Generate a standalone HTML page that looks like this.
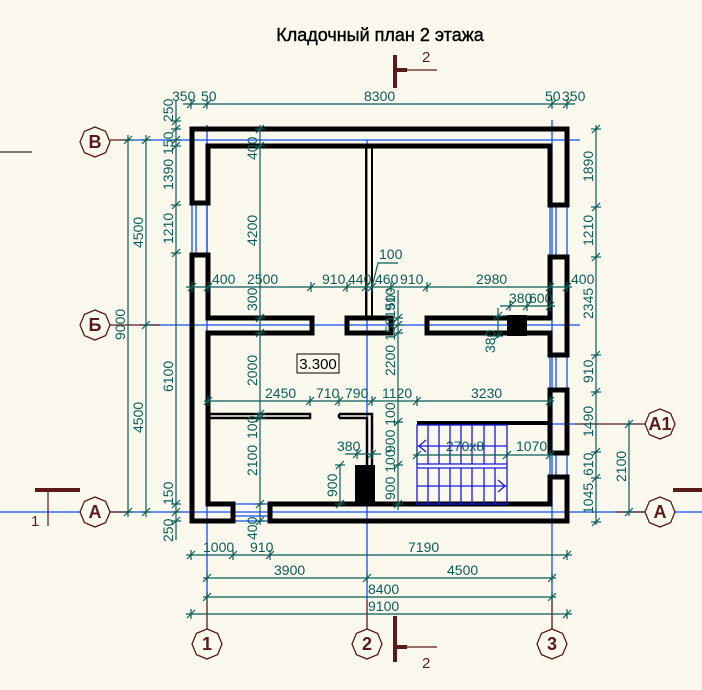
<!DOCTYPE html>
<html><head><meta charset="utf-8"><style>
html,body{margin:0;padding:0;background:#fbf9ee;}
svg{display:block}
.d{stroke:#0b5c58;stroke-width:1.2;fill:none}
.b{stroke:#1050f0;stroke-width:1.3;fill:none}
.w{stroke:#000;stroke-width:5;fill:none;stroke-linejoin:miter}
.r{stroke:#5a1a1a;stroke-width:1.3;fill:none}
text{font-family:"Liberation Sans",sans-serif;}
.t{fill:#0b5c58;font-size:14px;font-family:"Liberation Sans Narrow","Liberation Sans",sans-serif;}
.bb{fill:#5a1a1a;font-size:18px;font-weight:bold;text-anchor:middle}
</style></head><body>
<svg width="702" height="690" viewBox="0 0 702 690" xmlns="http://www.w3.org/2000/svg">
<defs>
<g id="th"><line x1="-4" y1="4" x2="4" y2="-4" stroke="#0b5c58" stroke-width="1.2"/><line x1="0" y1="-5" x2="0" y2="5" stroke="#0b5c58" stroke-width="1.2"/></g>
<g id="tv"><line x1="-4" y1="4" x2="4" y2="-4" stroke="#0b5c58" stroke-width="1.2"/><line x1="-5" y1="0" x2="5" y2="0" stroke="#0b5c58" stroke-width="1.2"/></g>
<polygon id="oct" points="15,0 10.6,10.6 0,15 -10.6,10.6 -15,0 -10.6,-10.6 0,-15 10.6,-10.6" fill="#fbf9ee" stroke="#5a1a1a" stroke-width="1.3"/>
</defs>
<rect width="702" height="690" fill="#fbf9ee"/>
<text x="380" y="41" text-anchor="middle" font-size="18" fill="#000" font-family="Liberation Sans Narrow, Liberation Sans, sans-serif" stroke="#000" stroke-width="0.4">Кладочный план 2 этажа</text>

<!-- axis lines -->
<line class="b" x1="207" y1="125" x2="207" y2="600"/>
<line class="b" x1="367" y1="140" x2="367" y2="600"/>
<line class="b" x1="552" y1="120" x2="552" y2="600"/>
<line class="b" x1="125" y1="140" x2="580" y2="140"/>
<line class="b" x1="140" y1="325" x2="580" y2="325"/>
<line class="b" x1="0" y1="512" x2="702" y2="512"/>
<line class="b" x1="417" y1="424" x2="575" y2="424"/>
<line class="r" x1="207" y1="600" x2="207" y2="629"/>
<line class="r" x1="367" y1="600" x2="367" y2="629"/>
<line class="r" x1="552" y1="600" x2="552" y2="629"/>
<line class="r" x1="110" y1="140" x2="130" y2="140"/>
<line class="r" x1="110" y1="325" x2="160" y2="325"/>
<line class="r" x1="110" y1="512" x2="130" y2="512"/>
<line class="r" x1="575" y1="424" x2="645" y2="424"/>
<line class="r" x1="615" y1="512" x2="645" y2="512"/>
<line x1="0" y1="152" x2="32" y2="152" stroke="#000" stroke-width="1"/>

<!-- windows -->
<g class="b" stroke="#1a1ae0">
<line x1="192" y1="203" x2="192" y2="255"/><line x1="196" y1="203" x2="196" y2="255"/><line x1="207" y1="203" x2="207" y2="255"/>
<line x1="550" y1="205" x2="550" y2="257"/><line x1="556" y1="205" x2="556" y2="257"/><line x1="567" y1="205" x2="567" y2="257"/>
<line x1="550" y1="355" x2="550" y2="390"/><line x1="556" y1="355" x2="556" y2="390"/><line x1="567" y1="355" x2="567" y2="390"/>
<line x1="550" y1="453" x2="550" y2="477"/><line x1="556" y1="453" x2="556" y2="477"/><line x1="567" y1="453" x2="567" y2="477"/>
<line x1="233" y1="504" x2="270" y2="504"/><line x1="233" y1="516" x2="270" y2="516"/><line x1="233" y1="521" x2="270" y2="521"/>
</g>

<!-- walls -->
<path class="w" d="M192,203 V129 H567 V205 H550 V146 H208 V203 Z"/>
<path class="w" d="M192,255 H208 V318 H312 V333 H208 V504 H233 V521 H192 Z"/>
<path class="w" d="M270,521 V504 H550 V477 H567 V521 Z"/>
<rect class="w" x="550" y="390" width="17" height="63"/>
<path class="w" d="M567,257 V355 H550 V333 H427 V318 H550 V257 Z"/>
<rect class="w" x="347" y="318" width="44" height="15"/>
<rect x="507" y="315" width="20" height="21" fill="#000"/>
<rect x="366" y="146" width="6" height="172" fill="none" stroke="#000" stroke-width="2"/>
<rect x="208" y="414" width="102" height="4" fill="none" stroke="#000" stroke-width="2.5"/>
<path d="M339,414 H372 V465 M339,418 H367 V465 M339,414 V418" fill="none" stroke="#000" stroke-width="2.5"/>
<rect x="355" y="465" width="20" height="39" fill="#000"/>
<line x1="417" y1="423" x2="550" y2="423" stroke="#000" stroke-width="4"/>

<!-- stair -->
<g stroke="#1a1ae0" stroke-width="1.3" fill="none">
<rect x="417" y="425" width="90" height="79"/>
<line x1="417" y1="464" x2="507" y2="464"/><line x1="417" y1="468" x2="507" y2="468"/>
<line x1="417" y1="446" x2="507" y2="446"/><line x1="417" y1="486" x2="507" y2="486"/>
<path d="M428,425V464M439,425V464M450,425V464M461,425V464M472,425V464M484,425V464M495,425V464"/>
<path d="M428,468V504M439,468V504M450,468V504M461,468V504M472,468V504M484,468V504M495,468V504"/>
<path d="M426,440 L419,446 L426,452 M498,480 L505,486 L498,492"/>
</g>

<!-- dimension lines -->
<g class="d">
<line x1="183" y1="104" x2="575" y2="104"/>
<line x1="176" y1="100" x2="176" y2="540"/>
<line x1="146" y1="135" x2="146" y2="517"/>
<line x1="128" y1="135" x2="128" y2="517"/>
<line x1="260" y1="125" x2="260" y2="525"/>
<line x1="398" y1="290" x2="398" y2="510"/>
<line x1="340" y1="465" x2="340" y2="506"/>
<line x1="498" y1="308" x2="498" y2="338"/>
<line x1="596" y1="125" x2="596" y2="525"/>
<line x1="629" y1="420" x2="629" y2="516"/>
<line x1="186" y1="287" x2="572" y2="287"/>
<line x1="204" y1="401" x2="554" y2="401"/>
<line x1="413" y1="455" x2="554" y2="455"/>
<line x1="345" y1="454" x2="381" y2="454"/>
<line x1="500" y1="306" x2="555" y2="306"/>
<line x1="186" y1="555" x2="572" y2="555"/>
<line x1="203" y1="578" x2="556" y2="578"/>
<line x1="203" y1="597" x2="556" y2="597"/>
<line x1="186" y1="614" x2="572" y2="614"/>
<path d="M372,287 L378,263 H398"/>
</g>

<!-- ticks horizontal -->
<g>
<use href="#th" x="191" y="104"/><use href="#th" x="207" y="104"/><use href="#th" x="552" y="104"/><use href="#th" x="567" y="104"/>
<use href="#th" x="192" y="287"/><use href="#th" x="208" y="287"/><use href="#th" x="311" y="287"/><use href="#th" x="347" y="287"/><use href="#th" x="366" y="287"/><use href="#th" x="372" y="287"/><use href="#th" x="391" y="287"/><use href="#th" x="427" y="287"/><use href="#th" x="550" y="287"/><use href="#th" x="567" y="287"/>
<use href="#th" x="208" y="401"/><use href="#th" x="310" y="401"/><use href="#th" x="339" y="401"/><use href="#th" x="372" y="401"/><use href="#th" x="417" y="401"/><use href="#th" x="550" y="401"/>
<use href="#th" x="417" y="455"/><use href="#th" x="507" y="455"/><use href="#th" x="550" y="455"/>
<use href="#th" x="357" y="454"/><use href="#th" x="372" y="454"/>
<use href="#th" x="510" y="306"/><use href="#th" x="527" y="306"/><use href="#th" x="550" y="306"/>
<use href="#th" x="191" y="555"/><use href="#th" x="233" y="555"/><use href="#th" x="270" y="555"/><use href="#th" x="567" y="555"/>
<use href="#th" x="207" y="578"/><use href="#th" x="367" y="578"/><use href="#th" x="552" y="578"/>
<use href="#th" x="207" y="597"/><use href="#th" x="552" y="597"/>
<use href="#th" x="191" y="614"/><use href="#th" x="567" y="614"/>
</g>
<!-- ticks vertical -->
<g>
<use href="#tv" x="176" y="121"/><use href="#tv" x="176" y="129"/><use href="#tv" x="176" y="140"/><use href="#tv" x="176" y="146"/><use href="#tv" x="176" y="205"/><use href="#tv" x="176" y="253"/><use href="#tv" x="176" y="504"/><use href="#tv" x="176" y="512"/><use href="#tv" x="176" y="521"/>
<use href="#tv" x="146" y="140"/><use href="#tv" x="146" y="325"/><use href="#tv" x="146" y="512"/>
<use href="#tv" x="128" y="140"/><use href="#tv" x="128" y="512"/>
<use href="#tv" x="260" y="129"/><use href="#tv" x="260" y="146"/><use href="#tv" x="260" y="318"/><use href="#tv" x="260" y="333"/><use href="#tv" x="260" y="414"/><use href="#tv" x="260" y="418"/><use href="#tv" x="260" y="504"/><use href="#tv" x="260" y="521"/>
<use href="#tv" x="398" y="318"/><use href="#tv" x="398" y="325"/><use href="#tv" x="398" y="333"/><use href="#tv" x="398" y="422"/><use href="#tv" x="398" y="465"/><use href="#tv" x="398" y="504"/>
<use href="#tv" x="340" y="465"/><use href="#tv" x="340" y="504"/>
<use href="#tv" x="498" y="316"/><use href="#tv" x="498" y="336"/>
<use href="#tv" x="596" y="129"/><use href="#tv" x="596" y="207"/><use href="#tv" x="596" y="257"/><use href="#tv" x="596" y="355"/><use href="#tv" x="596" y="392"/><use href="#tv" x="596" y="452"/><use href="#tv" x="596" y="478"/><use href="#tv" x="596" y="522"/>
<use href="#tv" x="629" y="424"/><use href="#tv" x="629" y="512"/>
</g>

<!-- dimension text horizontal -->
<g class="t">
<text x="172" y="101">350</text><text x="201" y="101">50</text><text x="364" y="101">8300</text><text x="545" y="101">50</text><text x="562" y="101">350</text>
<text x="212" y="284">400</text><text x="247" y="284">2500</text><text x="322" y="284">910</text><text x="348" y="284">440</text><text x="375" y="284">460</text><text x="400" y="284">910</text><text x="476" y="284">2980</text><text x="571" y="284">400</text>
<text x="379" y="259">100</text>
<text x="509" y="303">380</text><text x="529" y="303">600</text>
<text x="265" y="398">2450</text><text x="316" y="398">710</text><text x="345" y="398">790</text><text x="382" y="398">1120</text><text x="471" y="398">3230</text>
<text x="446" y="451">270x8</text><text x="516" y="451">1070</text>
<text x="337" y="451">380</text>
<text x="203" y="552">1000</text><text x="250" y="552">910</text><text x="408" y="552">7190</text>
<text x="274" y="575">3900</text><text x="447" y="575">4500</text>
<text x="368" y="594">8400</text><text x="368" y="611">9100</text>
</g>
<!-- dimension text vertical -->
<g class="t">
<text transform="translate(173,122) rotate(-90)">250</text>
<text transform="translate(173,155) rotate(-90)">150</text>
<text transform="translate(173,190) rotate(-90)">1390</text>
<text transform="translate(173,244) rotate(-90)">1210</text>
<text transform="translate(173,392) rotate(-90)">6100</text>
<text transform="translate(173,505) rotate(-90)">150</text>
<text transform="translate(173,542) rotate(-90)">250</text>
<text transform="translate(143,248) rotate(-90)">4500</text>
<text transform="translate(143,433) rotate(-90)">4500</text>
<text transform="translate(125,340) rotate(-90)">9000</text>
<text transform="translate(257,160) rotate(-90)">400</text>
<text transform="translate(257,246) rotate(-90)">4200</text>
<text transform="translate(257,311) rotate(-90)">300</text>
<text transform="translate(257,386) rotate(-90)">2000</text>
<text transform="translate(257,439) rotate(-90)">100</text>
<text transform="translate(257,476) rotate(-90)">2100</text>
<text transform="translate(257,540) rotate(-90)">400</text>
<text transform="translate(395,311) rotate(-90)">910</text>
<text transform="translate(395,318) rotate(-90)">150</text>
<text transform="translate(395,376) rotate(-90)">2200 150</text>
<text transform="translate(395,453) rotate(-90)">900 100</text>
<text transform="translate(395,500) rotate(-90)">900 100</text>
<text transform="translate(337,497) rotate(-90)">900</text>
<text transform="translate(495,353) rotate(-90)">380</text>
<text transform="translate(593,182) rotate(-90)">1890</text>
<text transform="translate(593,246) rotate(-90)">1210</text>
<text transform="translate(593,319) rotate(-90)">2345</text>
<text transform="translate(593,383) rotate(-90)">910</text>
<text transform="translate(593,437) rotate(-90)">1490</text>
<text transform="translate(593,476) rotate(-90)">610</text>
<text transform="translate(593,514) rotate(-90)">1045</text>
<text transform="translate(626,482) rotate(-90)">2100</text>
</g>

<!-- level mark -->
<rect x="297" y="354" width="42" height="19" fill="#fbf9ee" stroke="#000" stroke-width="1"/>
<text x="318" y="369" text-anchor="middle" font-size="15" fill="#000">3.300</text>

<!-- axis bubbles -->
<use href="#oct" x="95" y="142"/><text class="bb" x="95" y="148">В</text>
<use href="#oct" x="95" y="325"/><text class="bb" x="95" y="331">Б</text>
<use href="#oct" x="95" y="512"/><text class="bb" x="95" y="518">А</text>
<use href="#oct" x="660" y="424"/><text class="bb" x="660" y="430">А1</text>
<use href="#oct" x="660" y="512"/><text class="bb" x="660" y="518">А</text>
<use href="#oct" x="207" y="644"/><text class="bb" x="207" y="650">1</text>
<use href="#oct" x="367" y="644"/><text class="bb" x="367" y="650">2</text>
<use href="#oct" x="552" y="644"/><text class="bb" x="552" y="650">3</text>

<!-- section marks -->
<rect x="393" y="55" width="4" height="33" fill="#5a1a1a"/>
<line x1="397" y1="70" x2="437" y2="70" stroke="#5a1a1a" stroke-width="1.2"/>
<rect x="397" y="68" width="10" height="4" fill="#5a1a1a"/>
<text x="422" y="62" font-size="15" fill="#5a1a1a">2</text>
<rect x="393" y="616" width="4" height="46" fill="#5a1a1a"/>
<line x1="397" y1="647" x2="437" y2="647" stroke="#5a1a1a" stroke-width="1.2"/>
<rect x="397" y="645" width="10" height="4" fill="#5a1a1a"/>
<text x="422" y="668" font-size="15" fill="#5a1a1a">2</text>
<rect x="35" y="488" width="45" height="4" fill="#5a1a1a"/>
<line x1="48" y1="492" x2="48" y2="526" stroke="#5a1a1a" stroke-width="1.2"/>
<text x="31" y="526" font-size="15" fill="#5a1a1a">1</text>
<rect x="673" y="488" width="29" height="4" fill="#5a1a1a"/>
</svg>
</body></html>
